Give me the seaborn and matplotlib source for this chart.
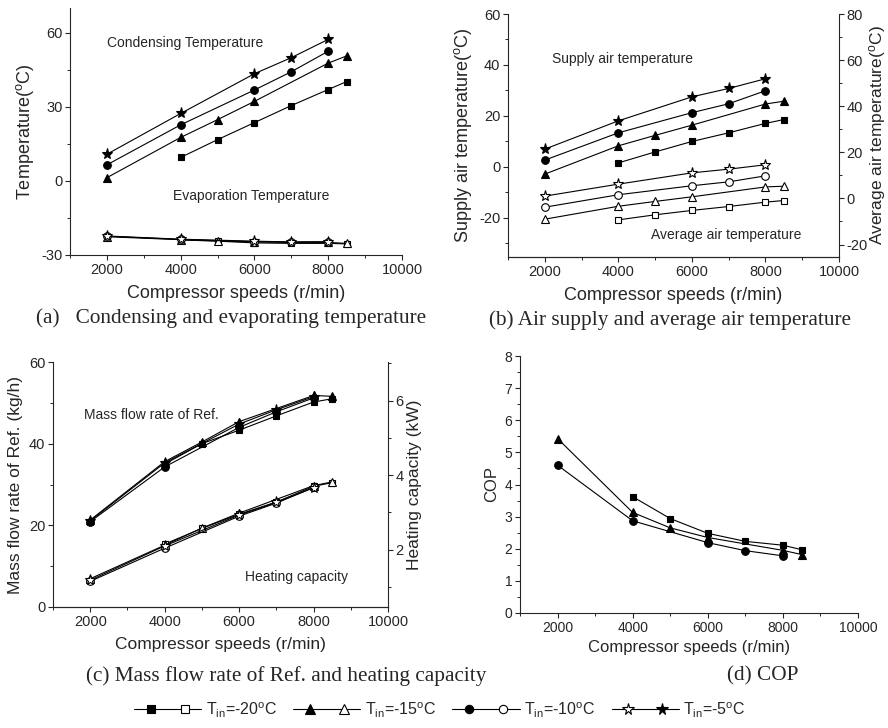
import matplotlib
matplotlib.use('Agg')
from matplotlib import pyplot as plt
from matplotlib.lines import Line2D
from matplotlib.legend_handler import HandlerTuple
from matplotlib.ticker import MultipleLocator
import seaborn as sns

sns.set_style('ticks')
plt.rcParams['font.family'] = ['Liberation Sans', 'DejaVu Sans']
plt.rcParams['mathtext.fontset'] = 'custom'
plt.rcParams['mathtext.rm'] = 'Liberation Sans'
plt.rcParams['mathtext.it'] = 'Liberation Sans:italic'
plt.rcParams['axes.unicode_minus'] = False

# Velocidades del compresor por serie (T_in)
speed_20 = [4000, 5000, 6000, 7000, 8000, 8500]
speed_15 = [2000, 4000, 5000, 6000, 8000, 8500]
speed_10 = [2000, 4000, 6000, 7000, 8000]
speed_5 = [2000, 4000, 6000, 7000, 8000]

# (a) temperaturas de condensacion y evaporacion
cond_20 = [9.5, 16.7, 23.6, 30.5, 37.0, 40.2]
cond_15 = [1.3, 17.6, 24.8, 32.2, 47.7, 50.6]
cond_10 = [6.5, 22.7, 36.8, 44.2, 52.5]
cond_5 = [10.8, 27.3, 43.4, 49.9, 57.3]
evap_20 = [-23.9, -24.4, -25.1, -25.3, -25.3, -25.5]
evap_15 = [-22.6, -23.8, -24.3, -24.7, -24.9, -25.3]
evap_10 = [-22.4, -23.7, -24.6, -24.9, -24.8]
evap_5 = [-22.3, -23.6, -24.4, -24.7, -24.6]

# (b) temperatura de aire de suministro y promedio
supply_20 = [1.6, 5.9, 10.0, 13.4, 17.1, 18.6]
supply_15 = [-2.8, 8.3, 12.4, 16.4, 24.7, 25.8]
supply_10 = [2.7, 13.4, 21.3, 24.8, 29.9]
supply_5 = [7.0, 18.1, 27.5, 30.8, 34.6]
avg_20 = [-9.3, -7.1, -5.2, -3.5, -1.6, -0.9]
avg_15 = [-9.0, -3.4, -1.3, 0.7, 5.0, 5.3]
avg_10 = [-3.8, 1.6, 5.5, 7.2, 9.8]
avg_5 = [1.0, 6.2, 11.1, 12.7, 14.6]

# (c) caudal masico y capacidad de calefaccion
mass_20 = [35.0, 40.0, 43.3, 46.8, 50.2, 51.0]
mass_15 = [21.3, 35.6, 40.4, 45.4, 51.8, 51.6]
mass_10 = [20.9, 34.3, 44.0, 47.8, 51.2]
mass_5 = [21.1, 35.3, 44.8, 48.3, 51.5]
heat_20 = [2.15, 2.57, 2.95, 3.28, 3.70, 3.80]
heat_15 = [1.22, 2.12, 2.58, 2.98, 3.72, 3.82]
heat_10 = [1.15, 2.04, 2.90, 3.25, 3.67]
heat_5 = [1.18, 2.10, 2.93, 3.27, 3.66]

# (d) COP
cop_20 = [3.62, 2.94, 2.48, 2.23, 2.11, 1.97]
cop_15 = [5.43, 3.13, 2.65, 2.35, 1.95, 1.82]
cop_10 = [4.60, 2.87, 2.19, 1.94, 1.78]

legend_labels = [r'T$_{\mathrm{in}}$=-20$^{\mathrm{o}}$C', r'T$_{\mathrm{in}}$=-15$^{\mathrm{o}}$C',
                 r'T$_{\mathrm{in}}$=-10$^{\mathrm{o}}$C', r'T$_{\mathrm{in}}$=-5$^{\mathrm{o}}$C']

MARK = {'20': ('s', 5), '15': ('^', 6), '10': ('o', 5.5), '5': ('*', 8)}
SPEEDS = {'20': speed_20, '15': speed_15, '10': speed_10, '5': speed_5}


def serie(ax, key, vals, filled=True):
    m, ms = MARK[key]
    sns.lineplot(x=SPEEDS[key], y=vals, ax=ax, color='black', linewidth=0.8,
                 marker=m, markersize=ms, markerfacecolor='black' if filled else 'white',
                 markeredgecolor='black', markeredgewidth=0.8)


def style_axis(ax, right=False):
    ax.set_xlim(1000, 10000)
    ax.xaxis.set_major_locator(MultipleLocator(2000))
    ax.xaxis.set_minor_locator(MultipleLocator(1000))
    ax.spines['top'].set_visible(False)
    ax.spines['right'].set_visible(right)
    for s in ax.spines.values():
        s.set_linewidth(0.8)
    ax.tick_params(which='major', direction='out', length=3.5, width=0.8, labelsize=10.5, pad=2)
    ax.tick_params(which='minor', direction='out', length=2, width=0.7)


fig = plt.figure(figsize=(8.88, 7.28), dpi=100)

# ---------- (a) ----------
ax_a = fig.add_axes([70/888, 1-255/728, 332/888, 247/728])
for k, c, e in [('20', cond_20, evap_20), ('15', cond_15, evap_15),
                ('10', cond_10, evap_10), ('5', cond_5, evap_5)]:
    serie(ax_a, k, c, True)
    serie(ax_a, k, e, False)
style_axis(ax_a)
ax_a.set_ylim(-30, 70)
ax_a.yaxis.set_major_locator(MultipleLocator(30))
ax_a.yaxis.set_minor_locator(MultipleLocator(15))
ax_a.set_xlabel('Compressor speeds (r/min)', fontsize=13, labelpad=6)
ax_a.set_ylabel(r'Temperature($^{\mathrm{o}}$C)', fontsize=13)
ax_a.text(2000, 56, 'Condensing Temperature', fontsize=10, va='center')
ax_a.text(3800, -6, 'Evaporation Temperature', fontsize=10, va='center')

# ---------- (b) ----------
ax_b = fig.add_axes([508/888, 1-257/728, 331/888, 243/728])
ax_b2 = ax_b.twinx()
for k, s, a in [('20', supply_20, avg_20), ('15', supply_15, avg_15),
                ('10', supply_10, avg_10), ('5', supply_5, avg_5)]:
    serie(ax_b, k, s, True)
    serie(ax_b2, k, a, False)
style_axis(ax_b)
style_axis(ax_b2, right=True)
ax_b2.spines['left'].set_visible(False)
ax_b.set_ylim(-35.3, 60)
ax_b.yaxis.set_major_locator(MultipleLocator(20))
ax_b.yaxis.set_minor_locator(MultipleLocator(10))
ax_b2.set_ylim(-25.4, 80)
ax_b2.yaxis.set_major_locator(MultipleLocator(20))
ax_b2.yaxis.set_minor_locator(MultipleLocator(10))
ax_b.set_xlabel('Compressor speeds (r/min)', fontsize=13, labelpad=6)
ax_b.set_ylabel(r'Supply air temperature($^{\mathrm{o}}$C)', fontsize=13)
ax_b2.set_ylabel(r'Average air temperature($^{\mathrm{o}}$C)', fontsize=12.5, labelpad=-1)
ax_b.text(2200, 42.3, 'Supply air temperature', fontsize=10, va='center')
ax_b.text(4880, -26.8, 'Average air temperature', fontsize=10, va='center')

# ---------- (c) ----------
ax_c = fig.add_axes([53/888, 1-607/728, 335/888, 245/728])
ax_c2 = ax_c.twinx()
for k, m_, h in [('20', mass_20, heat_20), ('15', mass_15, heat_15),
                 ('10', mass_10, heat_10), ('5', mass_5, heat_5)]:
    serie(ax_c, k, m_, True)
    serie(ax_c2, k, h, False)
style_axis(ax_c)
style_axis(ax_c2, right=True)
ax_c2.spines['left'].set_visible(False)
ax_c.set_ylim(0, 60)
ax_c.yaxis.set_major_locator(MultipleLocator(20))
ax_c.yaxis.set_minor_locator(MultipleLocator(10))
ax_c2.set_ylim(0.46, 7.04)
ax_c2.yaxis.set_major_locator(MultipleLocator(2))
ax_c2.yaxis.set_minor_locator(MultipleLocator(1))
ax_c.set_xlabel('Compressor speeds (r/min)', fontsize=12.5, labelpad=6)
ax_c.set_ylabel('Mass flow rate of Ref. (kg/h)', fontsize=12.5)
ax_c2.set_ylabel('Heating capacity (kW)', fontsize=12.5, labelpad=2)
ax_c.text(1830, 47, 'Mass flow rate of Ref.', fontsize=10, va='center')
ax_c.text(6150, 7.4, 'Heating capacity', fontsize=10, va='center')

# ---------- (d) ----------
ax_d = fig.add_axes([520/888, 1-613/728, 338/888, 257/728])
for k, c in [('20', cop_20), ('15', cop_15), ('10', cop_10)]:
    serie(ax_d, k, c, True)
style_axis(ax_d)
ax_d.tick_params(labelsize=10)
ax_d.set_ylim(0, 8)
ax_d.yaxis.set_major_locator(MultipleLocator(1))
ax_d.yaxis.set_minor_locator(MultipleLocator(0.5))
ax_d.set_xlabel('Compressor speeds (r/min)', fontsize=12, labelpad=4)
ax_d.set_ylabel('COP', fontsize=12)

# ---------- subtitulos ----------
cap = dict(family=['Liberation Serif', 'DejaVu Serif'], fontsize=15.3, ha='center', va='center')
fig.text(231/888, 1-318/728, '(a)   Condensing and evaporating temperature', **cap)
fig.text(670/888, 1-320/728, '(b) Air supply and average air temperature', **cap)
fig.text(286/888, 1-676/728, '(c) Mass flow rate of Ref. and heating capacity', **cap)
fig.text(763/888, 1-676/728, '(d) COP', **cap)

# ---------- leyenda ----------
def handle(key, filled):
    m, ms = MARK[key]
    return Line2D([], [], color='black', linewidth=0.8, marker=m, markersize=ms + 0.5,
                  markerfacecolor='black' if filled else 'white', markeredgecolor='black',
                  markeredgewidth=0.8)

handles = [(handle('20', True), handle('20', False)),
           (handle('15', True), handle('15', False)),
           (handle('10', True), handle('10', False)),
           (handle('5', False), handle('5', True))]
fig.legend(handles, legend_labels, handler_map={tuple: HandlerTuple(ndivide=None, pad=0)},
           ncol=4, loc='center', bbox_to_anchor=(440/888, 1-710/728), frameon=False,
           handlelength=4.2, handletextpad=0.3, columnspacing=1.0, fontsize=11.5)

fig.savefig('out.png', dpi=100)
